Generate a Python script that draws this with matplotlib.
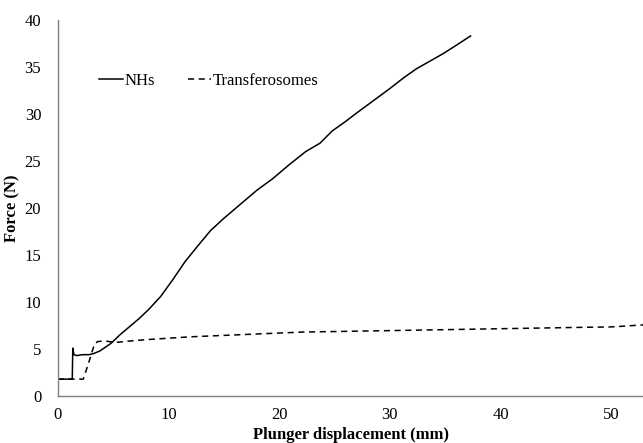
import matplotlib
matplotlib.use('Agg')
import matplotlib.pyplot as plt

plt.rcParams['font.family'] = ['Liberation Serif', 'DejaVu Serif']

# NHs curve
nhs_x = [0, 0, 0.2, 0.8, 1.3, 1.35, 1.45, 1.7, 2.2, 2.8, 3.2, 3.8, 4.8, 5.6, 6.4, 7.4, 8.2,
         9.3, 10.4, 11.5, 12.6, 13.8, 15.0, 16.5, 18.0, 19.4, 20.8, 22.4, 23.7, 24.8,
         26.0, 27.0, 28.5, 30.0, 31.2, 32.4, 33.6, 34.8, 36.0, 37.3]
nhs_y = [0, 1.8, 1.8, 1.8, 1.8, 5.1, 4.4, 4.3, 4.4, 4.4, 4.5, 4.8, 5.6, 6.5, 7.3, 8.3, 9.2,
         10.6, 12.4, 14.3, 15.9, 17.6, 18.9, 20.4, 21.9, 23.1, 24.5, 26.0, 26.9, 28.2,
         29.2, 30.1, 31.4, 32.7, 33.8, 34.8, 35.6, 36.4, 37.3, 38.3]

# Transferosomes curve
tr_x = [0, 0.5, 1.5, 2.3, 2.8, 3.3, 3.6, 4.3, 5.2, 6.5, 8, 10, 12, 15, 18, 22, 27, 32, 37,
        42, 47, 50, 52, 53.5]
tr_y = [1.8, 1.8, 1.8, 1.8, 3.6, 5.5, 5.8, 5.85, 5.7, 5.85, 6.0, 6.15, 6.3, 6.45, 6.6, 6.8,
        6.9, 7.0, 7.1, 7.2, 7.3, 7.35, 7.5, 7.6]

fig = plt.figure(figsize=(6.43, 4.43), dpi=100)
ax = fig.add_axes([0.090, 0.106, 0.912, 0.849])

ax.plot(nhs_x, nhs_y, color='black', lw=1.1, label='NHs')
ax.plot(tr_x, tr_y, color='black', lw=1.1, ls=(0, (4, 3)), label='Transferosomes')

ax.set_xlim(0, 53)
ax.set_ylim(0, 40)
ax.set_xticks(range(0, 60, 10))
ax.set_yticks(range(0, 45, 5))
ax.tick_params(length=0, labelsize=12, colors='black')
ax.tick_params(axis='x', pad=8)
ax.tick_params(axis='y', pad=12)

for s in ['top', 'right']:
    ax.spines[s].set_visible(False)
for s in ['left', 'bottom']:
    ax.spines[s].set_color('#808080')
    ax.spines[s].set_linewidth(1.0)

ax.set_xlabel('Plunger displacement (mm)', fontsize=12, fontweight='bold', labelpad=3)
ax.set_ylabel('Force (N)', fontsize=12, fontweight='bold', labelpad=3)

ax.legend(loc='upper left', bbox_to_anchor=(0.045, 0.90), ncol=2, frameon=False,
          fontsize=12, handlelength=1.4, handletextpad=0.1, columnspacing=2.0)

fig.savefig('out.png', dpi=100)
